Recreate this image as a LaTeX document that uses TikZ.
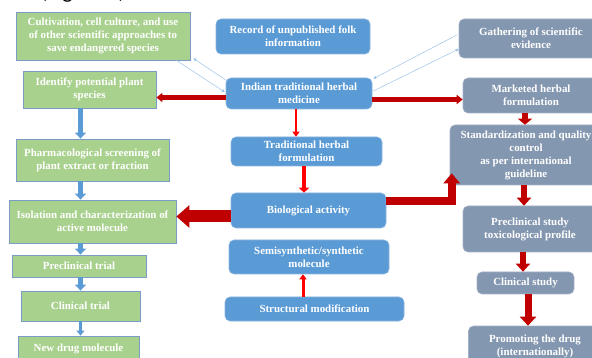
\documentclass[tikz,border=0pt]{standalone}
\usepackage{fontspec}
\setmainfont{Liberation Serif}
\newfontfamily\capfont{Carlito}
\usetikzlibrary{arrows.meta}
\definecolor{greenfill}{HTML}{A9D18E}
\definecolor{greenedge}{HTML}{7A9CC6}
\definecolor{bluefill}{HTML}{5B9BD5}
\definecolor{blueedge}{HTML}{8AB4E0}
\definecolor{grayfill}{HTML}{8497B0}
\definecolor{grayedge}{HTML}{A3B1C6}
\definecolor{arrowblue}{HTML}{5B9BD5}
\definecolor{lineblue}{HTML}{9DC3E6}
\definecolor{darkred}{HTML}{C00000}
\definecolor{brightred}{HTML}{FF0000}
\begin{document}
\begin{tikzpicture}[x=1pt, y=-1pt,
  boxtext/.style={text=white, font=\bfseries\fontsize{10.9}{13}\selectfont, align=center, inner sep=0pt},
  gbox/.style={boxtext, rectangle, fill=greenfill, draw=greenedge, line width=0.8pt},
  bbox/.style={boxtext, rectangle, rounded corners=5pt, fill=bluefill, draw=blueedge, line width=0.6pt},
  ybox/.style={boxtext, rectangle, rounded corners=5pt, fill=grayfill, draw=grayedge, line width=0.6pt},
  bluearr/.style={draw=arrowblue, line width=4.5pt, -{Triangle[width=11pt,length=6pt]}},
  redarr/.style={draw=darkred, line width=5pt, -{Triangle[width=9pt,length=6pt]}},
  redthin/.style={draw=brightred, line width=3pt, -{Triangle[width=7pt,length=5pt]}},
  thinblue/.style={draw=lineblue, line width=0.5pt, -{Triangle[width=3pt,length=3pt]}}]
\useasboundingbox (0,0) rectangle (592,358);
\node[font=\capfont\fontsize{22}{26}\selectfont, anchor=base, inner sep=0pt] (figcap) at (83,-1) {(Figure 1)};
\node[gbox, minimum width=174pt, minimum height=48pt] (cult) at (103,36) {Cultivation, cell culture, and use\\of  other scientific approaches to\\save endangered species};
\node[gbox, minimum width=133pt, minimum height=37pt] (ident) at (89.5,89.5) {Identify potential plant\\species};
\node[gbox, minimum width=153pt, minimum height=42pt] (pharm) at (92.5,160) {Pharmacological screening of\\plant extract or fraction};
\node[gbox, minimum width=167pt, minimum height=43pt] (isol) at (92.5,221.5) {Isolation and characterization of\\active molecule};
\node[gbox, minimum width=134pt, minimum height=22pt] (precl) at (79,266) {Preclinical trial};
\node[gbox, minimum width=119pt, minimum height=30pt] (clin) at (80.5,306) {Clinical trial};
\node[gbox, minimum width=121pt, minimum height=26pt] (newdrug) at (78.5,349) {New drug molecule};
\node[bbox, minimum width=154pt, minimum height=35pt] (record) at (293,36.5) {Record of unpublished folk\\information};
\node[bbox, minimum width=146pt, minimum height=31pt] (itm) at (299,93.5) {Indian traditional herbal\\medicine};
\node[bbox, minimum width=151pt, minimum height=29pt] (thf) at (306.5,151.5) {Traditional herbal\\formulation};
\node[bbox, minimum width=155pt, minimum height=35pt] (bio) at (308.5,210.5) {Biological activity};
\node[bbox, minimum width=160pt, minimum height=34pt] (semi) at (309,257) {Semisynthetic/synthetic\\molecule};
\node[bbox, minimum width=179pt, minimum height=24pt] (struct) at (314.5,309) {Structural modification};
\node[ybox, minimum width=144pt, minimum height=39pt] (gath) at (531,38.5) {Gathering of scientific\\evidence};
\node[ybox, minimum width=136pt, minimum height=35pt] (market) at (531,95.5) {Marketed herbal\\formulation};
\node[ybox, minimum width=152pt, minimum height=60pt] (stand) at (526,155) {Standardization and quality\\control\\as per international\\guideline};
\node[ybox, minimum width=134pt, minimum height=46pt] (pstudy) at (530,229) {Preclinical study\\toxicological profile};
\node[ybox, minimum width=97pt, minimum height=22pt] (clinstudy) at (525.5,283) {Clinical study};
\node[ybox, minimum width=133pt, minimum height=40pt] (promo) at (535,346) {Promoting the drug\\(internationally)};
\draw[bluearr] (ident.south -| clin) -- (pharm.north -| clin);
\draw[bluearr] (pharm.south -| clin) -- (isol.north -| clin);
\draw[bluearr] (isol.south -| clin) -- (precl.north -| clin);
\draw[bluearr] (precl.south -| clin) -- (clin.north);
\draw[bluearr, line width=3pt, -{Triangle[width=8pt,length=5pt]}] (clin.south) -- (newdrug.north -| clin);
\draw[thinblue] ([xshift=1pt,yshift=-3pt]itm.north west) -- ([xshift=3pt,yshift=2pt]cult.south east);
\draw[thinblue] ([xshift=-14pt]cult.south east) -- ([xshift=-1pt,yshift=1.5pt]itm.west);
\draw[thinblue] ([xshift=-2pt,yshift=3.5pt]gath.west) -- ([xshift=1pt,yshift=-1pt]itm.north east);
\draw[thinblue] ([xshift=1pt,yshift=2.5pt]itm.east) -- ([yshift=-10.5pt]gath.west);
\draw[redarr] ([yshift=-4pt]itm.west) -- ([yshift=-8pt]ident.east);
\draw[redarr] ([yshift=-6pt]itm.east) -- ([yshift=-4pt]market.west);
\draw[redthin, line width=2.5pt] ([xshift=-3pt]itm.south) -- ([xshift=-10.5pt]thf.north);
\draw[redthin, line width=4pt, -{Triangle[width=10pt,length=5pt]}] ([xshift=-2.5pt]thf.south) -- ([xshift=-4.5pt]bio.north);
\draw[redarr, line width=12pt, -{Triangle[width=22pt,length=13pt]}] ([yshift=-6pt]bio.west) -- ([yshift=5pt]isol.east);
\draw[redarr, line width=8pt, -{Triangle[width=16pt,length=10pt]}] ([yshift=9.5pt]bio.east) -| ([xshift=2pt,yshift=12pt]stand.south west);
\draw[redarr, line width=6pt, -{Triangle[width=14pt,length=6pt]}] ([xshift=-6pt]market.south) -- ([xshift=-1pt]stand.north);
\draw[redarr, line width=6.5pt, -{Triangle[width=14pt,length=8pt]}] ([xshift=-2pt]stand.south) -- ([xshift=-6pt]pstudy.north);
\draw[redarr, line width=6.5pt, -{Triangle[width=14pt,length=8pt]}] ([xshift=-7pt]pstudy.south) -- ([xshift=-2.5pt]clinstudy.north);
\draw[redarr, line width=7pt, -{Triangle[width=16pt,length=9pt]}] ([xshift=2.5pt]clinstudy.south) -- ([xshift=-7pt]promo.north);
\draw[redthin] ([xshift=-11.5pt]struct.north) -- ([xshift=-6pt]semi.south);
\end{tikzpicture}
\end{document}
